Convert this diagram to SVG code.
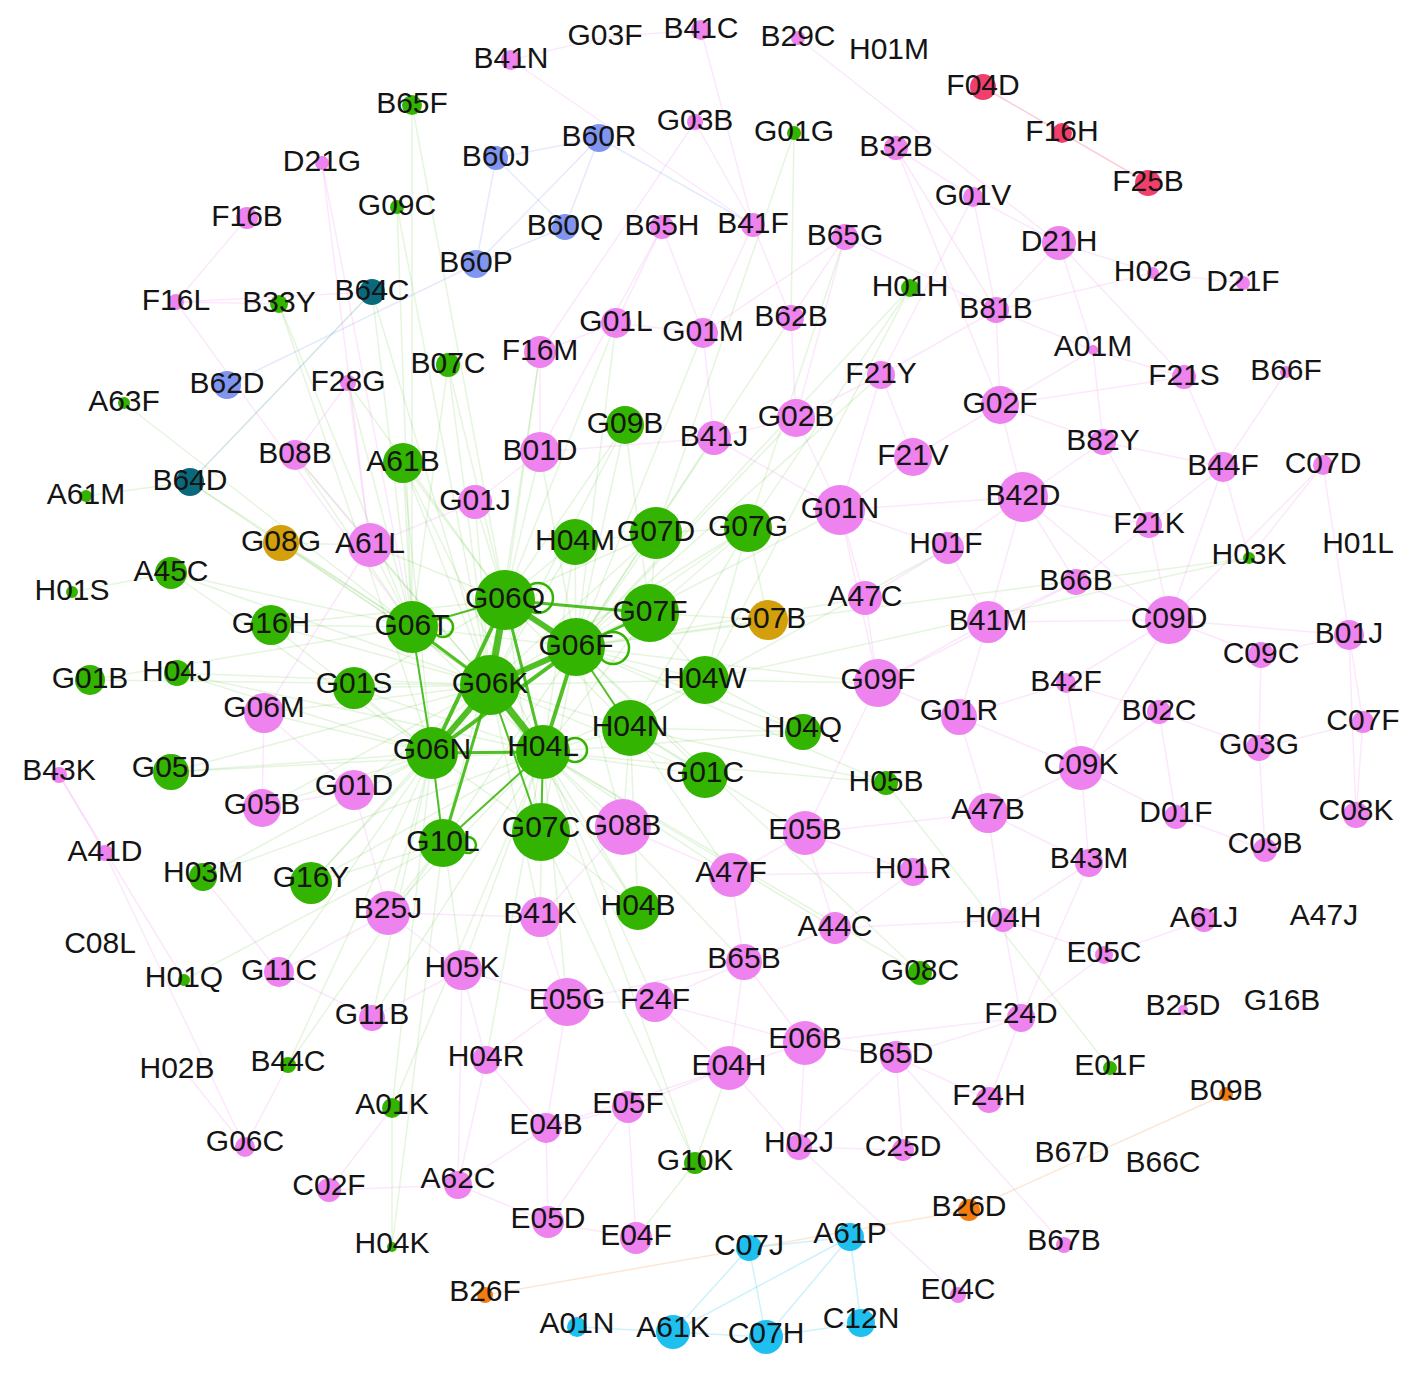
<svg xmlns="http://www.w3.org/2000/svg" width="1419" height="1381" viewBox="0 0 1419 1381">
<style>
text{font-family:"Liberation Sans",Arial,sans-serif;font-size:30px;fill:#141414;text-anchor:middle}
.g{fill:#33b400}.p{fill:#ee82ee}.b{fill:#7f95ef}.t{fill:#0a6a7c}.o{fill:#d39f0a}.r{fill:#ef3f6a}.c{fill:#1ec0f0}.a{fill:#f27c10}
.eg line{stroke:#33b400;stroke-opacity:.13;stroke-width:1.5}
.ep line{stroke:#ee82ee;stroke-opacity:.18;stroke-width:1.5}
.eb line{stroke:#7f95ef;stroke-opacity:.2;stroke-width:1.5}
.ec line{stroke:#1ec0f0;stroke-opacity:.22;stroke-width:1.5}
.ea line{stroke:#f27c10;stroke-opacity:.18;stroke-width:1.5}
.er line{stroke:#ef3f6a;stroke-opacity:.25;stroke-width:1.5}
.et line{stroke:#0a6a7c;stroke-opacity:.18;stroke-width:1.5}
.ek line{stroke:#33b400;stroke-opacity:.85}
.loop{fill:none;stroke:#33b400;stroke-width:2.5}
</style>
<rect width="1419" height="1381" fill="#fff"/>
<g id="connectors">
<g class="eg">
<line x1="412" y1="105" x2="412" y2="627"/><line x1="412" y1="105" x2="505" y2="600"/>
<line x1="397" y1="207" x2="412" y2="627"/><line x1="397" y1="207" x2="490" y2="685"/>
<line x1="279" y1="304" x2="412" y2="627"/><line x1="279" y1="304" x2="432" y2="753"/>
<line x1="372" y1="292" x2="412" y2="627"/><line x1="372" y1="292" x2="490" y2="685"/>
<line x1="448" y1="365" x2="505" y2="600"/><line x1="448" y1="365" x2="412" y2="627"/><line x1="448" y1="365" x2="490" y2="685"/>
<line x1="124" y1="403" x2="412" y2="627"/><line x1="86" y1="496" x2="190" y2="482"/>
<line x1="190" y1="482" x2="490" y2="685"/><line x1="190" y1="482" x2="412" y2="627"/>
<line x1="403" y1="463" x2="505" y2="600"/><line x1="403" y1="463" x2="490" y2="685"/><line x1="403" y1="463" x2="412" y2="627"/><line x1="403" y1="463" x2="432" y2="753"/><line x1="403" y1="463" x2="543" y2="752"/>
<line x1="625" y1="425" x2="505" y2="600"/><line x1="625" y1="425" x2="576" y2="647"/><line x1="625" y1="425" x2="490" y2="685"/><line x1="625" y1="425" x2="650" y2="613"/>
<line x1="171" y1="573" x2="412" y2="627"/><line x1="171" y1="573" x2="490" y2="685"/><line x1="171" y1="573" x2="432" y2="753"/><line x1="171" y1="573" x2="72" y2="592"/>
<line x1="271" y1="625" x2="412" y2="627"/><line x1="271" y1="625" x2="490" y2="685"/><line x1="271" y1="625" x2="432" y2="753"/><line x1="271" y1="625" x2="505" y2="600"/>
<line x1="90" y1="680" x2="412" y2="627"/><line x1="90" y1="680" x2="490" y2="685"/>
<line x1="177" y1="673" x2="490" y2="685"/><line x1="177" y1="673" x2="543" y2="752"/><line x1="177" y1="673" x2="432" y2="753"/>
<line x1="354" y1="688" x2="490" y2="685"/><line x1="354" y1="688" x2="432" y2="753"/><line x1="354" y1="688" x2="505" y2="600"/><line x1="354" y1="688" x2="543" y2="752"/>
<line x1="171" y1="772" x2="432" y2="753"/><line x1="171" y1="772" x2="490" y2="685"/><line x1="171" y1="772" x2="543" y2="752"/>
<line x1="203" y1="877" x2="432" y2="753"/><line x1="203" y1="877" x2="543" y2="752"/>
<line x1="311" y1="883" x2="432" y2="753"/><line x1="311" y1="883" x2="490" y2="685"/><line x1="311" y1="883" x2="543" y2="752"/><line x1="311" y1="883" x2="443" y2="843"/>
<line x1="184" y1="980" x2="443" y2="843"/><line x1="288" y1="1065" x2="432" y2="753"/>
<line x1="392" y1="1108" x2="432" y2="753"/><line x1="392" y1="1108" x2="543" y2="752"/><line x1="392" y1="1247" x2="392" y2="1108"/><line x1="392" y1="1247" x2="443" y2="843"/>
<line x1="695" y1="1163" x2="543" y2="752"/><line x1="695" y1="1163" x2="541" y2="832"/><line x1="695" y1="1163" x2="729" y2="1068"/><line x1="695" y1="1163" x2="636" y2="1238"/>
<line x1="638" y1="908" x2="543" y2="752"/><line x1="638" y1="908" x2="490" y2="685"/><line x1="638" y1="908" x2="630" y2="728"/><line x1="638" y1="908" x2="541" y2="832"/>
<line x1="920" y1="973" x2="543" y2="752"/><line x1="920" y1="973" x2="576" y2="647"/>
<line x1="1110" y1="1068" x2="886" y2="783"/>
<line x1="886" y1="783" x2="630" y2="728"/><line x1="886" y1="783" x2="576" y2="647"/><line x1="886" y1="783" x2="543" y2="752"/>
<line x1="803" y1="732" x2="630" y2="728"/><line x1="803" y1="732" x2="576" y2="647"/><line x1="803" y1="732" x2="543" y2="752"/><line x1="803" y1="732" x2="705" y2="680"/>
<line x1="705" y1="775" x2="543" y2="752"/><line x1="705" y1="775" x2="490" y2="685"/><line x1="705" y1="775" x2="630" y2="728"/><line x1="705" y1="775" x2="576" y2="647"/>
<line x1="1249" y1="558" x2="576" y2="647"/><line x1="1249" y1="558" x2="705" y2="680"/>
<line x1="910" y1="288" x2="576" y2="647"/><line x1="910" y1="288" x2="748" y2="528"/><line x1="910" y1="288" x2="705" y2="680"/>
<line x1="794" y1="133" x2="791" y2="318"/><line x1="794" y1="133" x2="656" y2="533"/>
<line x1="705" y1="680" x2="576" y2="647"/><line x1="705" y1="680" x2="490" y2="685"/><line x1="705" y1="680" x2="543" y2="752"/><line x1="705" y1="680" x2="650" y2="613"/><line x1="705" y1="680" x2="630" y2="728"/><line x1="705" y1="680" x2="748" y2="528"/>
<line x1="630" y1="728" x2="490" y2="685"/><line x1="630" y1="728" x2="543" y2="752"/><line x1="630" y1="728" x2="505" y2="600"/>
<line x1="575" y1="542" x2="505" y2="600"/><line x1="575" y1="542" x2="576" y2="647"/><line x1="575" y1="542" x2="490" y2="685"/><line x1="575" y1="542" x2="543" y2="752"/><line x1="575" y1="542" x2="656" y2="533"/>
<line x1="656" y1="533" x2="505" y2="600"/><line x1="656" y1="533" x2="576" y2="647"/><line x1="656" y1="533" x2="490" y2="685"/><line x1="656" y1="533" x2="748" y2="528"/><line x1="656" y1="533" x2="650" y2="613"/>
<line x1="748" y1="528" x2="576" y2="647"/><line x1="748" y1="528" x2="650" y2="613"/><line x1="748" y1="528" x2="490" y2="685"/><line x1="748" y1="528" x2="630" y2="728"/>
<line x1="650" y1="613" x2="490" y2="685"/><line x1="650" y1="613" x2="543" y2="752"/><line x1="650" y1="613" x2="768" y2="620"/>
<line x1="768" y1="620" x2="576" y2="647"/><line x1="768" y1="620" x2="748" y2="528"/>
<line x1="281" y1="543" x2="412" y2="627"/><line x1="281" y1="543" x2="490" y2="685"/><line x1="281" y1="543" x2="370" y2="545"/>
<line x1="541" y1="832" x2="576" y2="647"/><line x1="541" y1="832" x2="505" y2="600"/><line x1="541" y1="832" x2="432" y2="753"/>
<line x1="443" y1="843" x2="505" y2="600"/><line x1="443" y1="843" x2="576" y2="647"/>
<line x1="412" y1="627" x2="543" y2="752"/><line x1="412" y1="627" x2="576" y2="647"/>
<line x1="264" y1="713" x2="490" y2="685"/><line x1="264" y1="713" x2="432" y2="753"/>
<line x1="354" y1="790" x2="432" y2="753"/><line x1="354" y1="790" x2="490" y2="685"/>
<line x1="262" y1="808" x2="432" y2="753"/><line x1="262" y1="808" x2="490" y2="685"/>
<line x1="388" y1="913" x2="432" y2="753"/><line x1="388" y1="913" x2="543" y2="752"/><line x1="388" y1="913" x2="443" y2="843"/>
<line x1="475" y1="502" x2="505" y2="600"/><line x1="475" y1="502" x2="490" y2="685"/>
<line x1="370" y1="545" x2="505" y2="600"/><line x1="370" y1="545" x2="490" y2="685"/><line x1="370" y1="545" x2="412" y2="627"/>
<line x1="295" y1="455" x2="412" y2="627"/><line x1="295" y1="455" x2="490" y2="685"/>
<line x1="348" y1="383" x2="412" y2="627"/><line x1="348" y1="383" x2="505" y2="600"/>
<line x1="540" y1="452" x2="505" y2="600"/><line x1="540" y1="452" x2="576" y2="647"/>
<line x1="540" y1="352" x2="505" y2="600"/><line x1="540" y1="352" x2="490" y2="685"/>
<line x1="616" y1="323" x2="576" y2="647"/><line x1="616" y1="323" x2="505" y2="600"/><line x1="703" y1="333" x2="576" y2="647"/>
<line x1="540" y1="917" x2="543" y2="752"/><line x1="540" y1="917" x2="490" y2="685"/>
<line x1="462" y1="970" x2="543" y2="752"/><line x1="462" y1="970" x2="432" y2="753"/>
<line x1="623" y1="827" x2="543" y2="752"/><line x1="623" y1="827" x2="576" y2="647"/><line x1="623" y1="827" x2="630" y2="728"/>
<line x1="279" y1="972" x2="432" y2="753"/><line x1="372" y1="1018" x2="432" y2="753"/><line x1="372" y1="1018" x2="543" y2="752"/>
<line x1="486" y1="1060" x2="543" y2="752"/><line x1="567" y1="1002" x2="543" y2="752"/><line x1="655" y1="1002" x2="543" y2="752"/>
<line x1="731" y1="875" x2="630" y2="728"/><line x1="731" y1="875" x2="543" y2="752"/><line x1="805" y1="833" x2="630" y2="728"/><line x1="744" y1="962" x2="543" y2="752"/>
<line x1="714" y1="438" x2="576" y2="647"/><line x1="796" y1="418" x2="576" y2="647"/><line x1="840" y1="510" x2="576" y2="647"/><line x1="865" y1="598" x2="576" y2="647"/>
<line x1="878" y1="683" x2="576" y2="647"/><line x1="878" y1="683" x2="705" y2="680"/><line x1="881" y1="375" x2="576" y2="647"/><line x1="791" y1="318" x2="576" y2="647"/>
<line x1="845" y1="237" x2="748" y2="528"/><line x1="948" y1="548" x2="705" y2="680"/><line x1="835" y1="928" x2="543" y2="752"/>
<line x1="288" y1="1065" x2="443" y2="843"/>
</g>
<g class="ep">
<line x1="176" y1="302" x2="247" y2="218"/><line x1="176" y1="302" x2="279" y2="304"/><line x1="176" y1="302" x2="372" y2="292"/><line x1="176" y1="302" x2="412" y2="627"/>
<line x1="322" y1="163" x2="412" y2="627"/><line x1="322" y1="163" x2="370" y2="545"/>
<line x1="605" y1="37" x2="511" y2="60"/><line x1="605" y1="37" x2="701" y2="30"/><line x1="511" y1="60" x2="753" y2="225"/><line x1="701" y1="30" x2="753" y2="225"/>
<line x1="798" y1="38" x2="1059" y2="243"/><line x1="695" y1="122" x2="540" y2="352"/><line x1="695" y1="122" x2="753" y2="225"/>
<line x1="662" y1="227" x2="540" y2="452"/><line x1="662" y1="227" x2="703" y2="333"/><line x1="662" y1="227" x2="616" y2="323"/>
<line x1="753" y1="225" x2="791" y2="318"/><line x1="753" y1="225" x2="703" y2="333"/>
<line x1="845" y1="237" x2="791" y2="318"/><line x1="845" y1="237" x2="703" y2="333"/><line x1="845" y1="237" x2="796" y2="418"/><line x1="845" y1="237" x2="996" y2="310"/>
<line x1="896" y1="148" x2="973" y2="197"/><line x1="896" y1="148" x2="996" y2="310"/><line x1="896" y1="148" x2="1000" y2="405"/>
<line x1="973" y1="197" x2="1059" y2="243"/><line x1="973" y1="197" x2="996" y2="310"/><line x1="973" y1="197" x2="881" y2="375"/>
<line x1="1059" y1="243" x2="1153" y2="273"/><line x1="1059" y1="243" x2="996" y2="310"/><line x1="1059" y1="243" x2="1093" y2="350"/><line x1="1059" y1="243" x2="1184" y2="377"/>
<line x1="1153" y1="273" x2="1243" y2="283"/><line x1="1153" y1="273" x2="996" y2="310"/>
<line x1="996" y1="310" x2="881" y2="375"/><line x1="996" y1="310" x2="1093" y2="350"/><line x1="996" y1="310" x2="1000" y2="405"/>
<line x1="1093" y1="350" x2="1000" y2="405"/><line x1="1093" y1="350" x2="1184" y2="377"/><line x1="1093" y1="350" x2="1103" y2="442"/>
<line x1="1184" y1="377" x2="1223" y2="467"/><line x1="1184" y1="377" x2="1000" y2="405"/><line x1="1286" y1="372" x2="1223" y2="467"/>
<line x1="881" y1="375" x2="796" y2="418"/><line x1="881" y1="375" x2="913" y2="457"/><line x1="881" y1="375" x2="840" y2="510"/>
<line x1="1000" y1="405" x2="1023" y2="497"/><line x1="1000" y1="405" x2="913" y2="457"/><line x1="1000" y1="405" x2="1103" y2="442"/>
<line x1="1103" y1="442" x2="1023" y2="497"/><line x1="1103" y1="442" x2="1149" y2="525"/><line x1="1103" y1="442" x2="1223" y2="467"/>
<line x1="1223" y1="467" x2="1149" y2="525"/><line x1="1223" y1="467" x2="1169" y2="620"/><line x1="1223" y1="467" x2="1249" y2="558"/>
<line x1="1323" y1="465" x2="1349" y2="635"/><line x1="1323" y1="465" x2="1249" y2="558"/><line x1="1323" y1="465" x2="1169" y2="620"/>
<line x1="1023" y1="497" x2="840" y2="510"/><line x1="1023" y1="497" x2="988" y2="622"/><line x1="1023" y1="497" x2="1169" y2="620"/><line x1="1023" y1="497" x2="1076" y2="582"/><line x1="1023" y1="497" x2="948" y2="548"/><line x1="1023" y1="497" x2="1149" y2="525"/>
<line x1="1149" y1="525" x2="1169" y2="620"/><line x1="1149" y1="525" x2="1076" y2="582"/>
<line x1="948" y1="548" x2="988" y2="622"/><line x1="948" y1="548" x2="840" y2="510"/><line x1="948" y1="548" x2="865" y2="598"/>
<line x1="1076" y1="582" x2="988" y2="622"/><line x1="1076" y1="582" x2="1169" y2="620"/><line x1="1076" y1="582" x2="878" y2="683"/>
<line x1="988" y1="622" x2="878" y2="683"/><line x1="988" y1="622" x2="1169" y2="620"/><line x1="988" y1="622" x2="959" y2="717"/>
<line x1="1169" y1="620" x2="1261" y2="655"/><line x1="1169" y1="620" x2="1349" y2="635"/><line x1="1169" y1="620" x2="1066" y2="683"/><line x1="1169" y1="620" x2="1081" y2="768"/>
<line x1="1261" y1="655" x2="1349" y2="635"/><line x1="1261" y1="655" x2="1259" y2="748"/><line x1="1349" y1="635" x2="1363" y2="722"/><line x1="1349" y1="635" x2="1356" y2="815"/>
<line x1="1066" y1="683" x2="1159" y2="712"/><line x1="1066" y1="683" x2="1081" y2="768"/><line x1="1066" y1="683" x2="959" y2="717"/>
<line x1="1159" y1="712" x2="1259" y2="748"/><line x1="1159" y1="712" x2="1081" y2="768"/><line x1="1159" y1="712" x2="1176" y2="817"/>
<line x1="1259" y1="748" x2="1363" y2="722"/><line x1="1259" y1="748" x2="1265" y2="850"/><line x1="1363" y1="722" x2="1356" y2="815"/>
<line x1="1081" y1="768" x2="988" y2="813"/><line x1="1081" y1="768" x2="1176" y2="817"/><line x1="1081" y1="768" x2="1089" y2="863"/><line x1="1081" y1="768" x2="959" y2="717"/>
<line x1="1176" y1="817" x2="1265" y2="850"/>
<line x1="988" y1="813" x2="1089" y2="863"/><line x1="988" y1="813" x2="959" y2="717"/><line x1="988" y1="813" x2="805" y2="833"/><line x1="988" y1="813" x2="1003" y2="920"/>
<line x1="959" y1="717" x2="878" y2="683"/><line x1="878" y1="683" x2="865" y2="598"/><line x1="878" y1="683" x2="840" y2="510"/><line x1="878" y1="683" x2="805" y2="833"/>
<line x1="865" y1="598" x2="840" y2="510"/><line x1="840" y1="510" x2="913" y2="457"/><line x1="840" y1="510" x2="796" y2="418"/><line x1="840" y1="510" x2="714" y2="438"/>
<line x1="796" y1="418" x2="714" y2="438"/><line x1="796" y1="418" x2="791" y2="318"/><line x1="714" y1="438" x2="703" y2="333"/><line x1="714" y1="438" x2="540" y2="452"/>
<line x1="1089" y1="863" x2="1003" y2="920"/><line x1="1089" y1="863" x2="1021" y2="1018"/>
<line x1="913" y1="872" x2="731" y2="875"/><line x1="913" y1="872" x2="805" y2="833"/><line x1="913" y1="872" x2="835" y2="928"/>
<line x1="1003" y1="920" x2="1021" y2="1018"/><line x1="1003" y1="920" x2="1104" y2="955"/><line x1="1003" y1="920" x2="835" y2="928"/>
<line x1="1204" y1="920" x2="1104" y2="955"/><line x1="1104" y1="955" x2="1021" y2="1018"/>
<line x1="1021" y1="1018" x2="989" y2="1100"/><line x1="1021" y1="1018" x2="896" y2="1057"/><line x1="1021" y1="1018" x2="805" y2="1043"/>
<line x1="835" y1="928" x2="744" y2="962"/><line x1="835" y1="928" x2="805" y2="833"/>
<line x1="744" y1="962" x2="567" y2="1002"/><line x1="744" y1="962" x2="655" y2="1002"/><line x1="744" y1="962" x2="805" y2="1043"/><line x1="744" y1="962" x2="729" y2="1068"/>
<line x1="567" y1="1002" x2="655" y2="1002"/><line x1="567" y1="1002" x2="462" y2="970"/><line x1="567" y1="1002" x2="540" y2="917"/><line x1="567" y1="1002" x2="546" y2="1128"/>
<line x1="655" y1="1002" x2="729" y2="1068"/><line x1="655" y1="1002" x2="805" y2="1043"/>
<line x1="805" y1="1043" x2="729" y2="1068"/><line x1="805" y1="1043" x2="896" y2="1057"/><line x1="805" y1="1043" x2="799" y2="1147"/>
<line x1="896" y1="1057" x2="989" y2="1100"/><line x1="896" y1="1057" x2="903" y2="1150"/><line x1="896" y1="1057" x2="799" y2="1147"/><line x1="896" y1="1057" x2="1064" y2="1245"/>
<line x1="729" y1="1068" x2="799" y2="1147"/><line x1="729" y1="1068" x2="628" y2="1107"/><line x1="729" y1="1068" x2="546" y2="1128"/>
<line x1="628" y1="1107" x2="546" y2="1128"/><line x1="628" y1="1107" x2="636" y2="1238"/><line x1="628" y1="1107" x2="548" y2="1222"/>
<line x1="546" y1="1128" x2="548" y2="1222"/><line x1="546" y1="1128" x2="486" y2="1060"/><line x1="546" y1="1128" x2="458" y2="1185"/>
<line x1="548" y1="1222" x2="636" y2="1238"/><line x1="548" y1="1222" x2="458" y2="1185"/>
<line x1="486" y1="1060" x2="462" y2="970"/><line x1="486" y1="1060" x2="458" y2="1185"/><line x1="486" y1="1060" x2="567" y2="1002"/>
<line x1="458" y1="1185" x2="329" y2="1190"/><line x1="458" y1="1185" x2="462" y2="970"/><line x1="329" y1="1190" x2="392" y2="1108"/>
<line x1="799" y1="1147" x2="958" y2="1295"/><line x1="903" y1="1150" x2="799" y2="1147"/>
<line x1="59" y1="775" x2="105" y2="853"/><line x1="59" y1="775" x2="184" y2="980"/><line x1="105" y1="853" x2="245" y2="1147"/><line x1="190" y1="1078" x2="245" y2="1147"/><line x1="245" y1="1147" x2="288" y2="1065"/>
<line x1="203" y1="877" x2="279" y2="972"/><line x1="279" y1="972" x2="372" y2="1018"/><line x1="279" y1="972" x2="388" y2="913"/><line x1="372" y1="1018" x2="462" y2="970"/>
<line x1="264" y1="713" x2="262" y2="808"/><line x1="264" y1="713" x2="354" y2="790"/><line x1="264" y1="713" x2="370" y2="545"/>
<line x1="370" y1="545" x2="295" y2="455"/><line x1="370" y1="545" x2="348" y2="383"/><line x1="370" y1="545" x2="475" y2="502"/><line x1="348" y1="383" x2="295" y2="455"/>
<line x1="388" y1="913" x2="462" y2="970"/><line x1="388" y1="913" x2="540" y2="917"/><line x1="354" y1="790" x2="262" y2="808"/><line x1="354" y1="790" x2="388" y2="913"/>
<line x1="623" y1="827" x2="731" y2="875"/><line x1="623" y1="827" x2="540" y2="917"/><line x1="731" y1="875" x2="805" y2="833"/><line x1="731" y1="875" x2="744" y2="962"/>
<line x1="540" y1="452" x2="475" y2="502"/><line x1="540" y1="352" x2="616" y2="323"/><line x1="540" y1="352" x2="540" y2="452"/><line x1="616" y1="323" x2="703" y2="333"/>
</g>
<g class="eb">
<line x1="599" y1="138" x2="496" y2="158"/><line x1="599" y1="138" x2="565" y2="227"/><line x1="599" y1="138" x2="476" y2="264"/>
<line x1="496" y1="158" x2="565" y2="227"/><line x1="496" y1="158" x2="476" y2="264"/><line x1="565" y1="227" x2="476" y2="264"/>
<line x1="599" y1="138" x2="753" y2="225"/><line x1="227" y1="385" x2="476" y2="264"/>
</g>
<g class="et"><line x1="190" y1="482" x2="372" y2="292"/></g>
<g class="ec">
<line x1="577" y1="1327" x2="673" y2="1332"/><line x1="673" y1="1332" x2="766" y2="1337"/><line x1="766" y1="1337" x2="861" y2="1323"/>
<line x1="673" y1="1332" x2="749" y2="1248"/><line x1="673" y1="1332" x2="850" y2="1237"/><line x1="749" y1="1248" x2="766" y2="1337"/>
<line x1="749" y1="1248" x2="850" y2="1237"/><line x1="850" y1="1237" x2="861" y2="1323"/><line x1="850" y1="1237" x2="766" y2="1337"/>
</g>
<g class="ea"><line x1="485" y1="1295" x2="969" y2="1210"/><line x1="969" y1="1210" x2="1226" y2="1094"/></g>
<g class="er"><line x1="983" y1="87" x2="1062" y2="133"/><line x1="1062" y1="133" x2="1148" y2="183"/></g>
<g class="ek">
<line x1="505" y1="600" x2="490" y2="685" stroke-width="7"/>
<line x1="505" y1="600" x2="576" y2="647" stroke-width="6"/>
<line x1="576" y1="647" x2="490" y2="685" stroke-width="6"/>
<line x1="490" y1="685" x2="543" y2="752" stroke-width="7"/>
<line x1="490" y1="685" x2="432" y2="753" stroke-width="6"/>
<line x1="505" y1="600" x2="432" y2="753" stroke-width="4"/>
<line x1="576" y1="647" x2="543" y2="752" stroke-width="4"/>
<line x1="505" y1="600" x2="543" y2="752" stroke-width="3"/>
<line x1="576" y1="647" x2="432" y2="753" stroke-width="4"/>
<line x1="432" y1="753" x2="543" y2="752" stroke-width="3"/>
<line x1="412" y1="627" x2="490" y2="685" stroke-width="3"/>
<line x1="412" y1="627" x2="505" y2="600" stroke-width="2"/>
<line x1="505" y1="600" x2="650" y2="613" stroke-width="3"/>
<line x1="576" y1="647" x2="650" y2="613" stroke-width="3"/>
<line x1="490" y1="685" x2="443" y2="843" stroke-width="3"/>
<line x1="432" y1="753" x2="443" y2="843" stroke-width="2"/>
<line x1="543" y1="752" x2="443" y2="843" stroke-width="2"/>
<line x1="490" y1="685" x2="541" y2="832" stroke-width="2"/>
<line x1="543" y1="752" x2="541" y2="832" stroke-width="2"/>
<line x1="576" y1="647" x2="630" y2="728" stroke-width="2"/>
<line x1="412" y1="627" x2="432" y2="753" stroke-width="2"/>
</g>
<circle class="loop" cx="538" cy="598" r="15"/>
<circle class="loop" cx="613" cy="648" r="16"/>
<circle class="loop" cx="575" cy="750" r="12"/>
<circle class="loop" cx="443" cy="627" r="10"/>
<circle class="loop" cx="468" cy="845" r="8" stroke-width="1.5"/>
</g>
<g id="nodes">
<g id="n-B41N"><circle class="p" cx="511" cy="60" r="10"/><text x="511" y="68">B41N</text></g>
<g id="n-G03F"><text x="605" y="45">G03F</text></g>
<g id="n-B41C"><circle class="p" cx="701" cy="30" r="10"/><text x="701" y="38">B41C</text></g>
<g id="n-B29C"><circle class="p" cx="798" cy="38" r="7"/><text x="798" y="46">B29C</text></g>
<g id="n-H01M"><text x="889" y="59">H01M</text></g>
<g id="n-F04D"><circle class="r" cx="983" cy="87" r="13"/><text x="983" y="95">F04D</text></g>
<g id="n-B65F"><circle class="g" cx="412" cy="105" r="10"/><text x="412" y="113">B65F</text></g>
<g id="n-B60R"><circle class="b" cx="599" cy="138" r="14"/><text x="599" y="146">B60R</text></g>
<g id="n-G03B"><circle class="p" cx="695" cy="122" r="8"/><text x="695" y="130">G03B</text></g>
<g id="n-G01G"><circle class="g" cx="794" cy="133" r="7"/><text x="794" y="141">G01G</text></g>
<g id="n-B32B"><circle class="p" cx="896" cy="148" r="12"/><text x="896" y="156">B32B</text></g>
<g id="n-F16H"><circle class="r" cx="1062" cy="133" r="10"/><text x="1062" y="141">F16H</text></g>
<g id="n-D21G"><circle class="p" cx="322" cy="163" r="7"/><text x="322" y="171">D21G</text></g>
<g id="n-B60J"><circle class="b" cx="496" cy="158" r="12"/><text x="496" y="166">B60J</text></g>
<g id="n-F25B"><circle class="r" cx="1148" cy="183" r="13"/><text x="1148" y="191">F25B</text></g>
<g id="n-G09C"><circle class="g" cx="397" cy="207" r="7"/><text x="397" y="215">G09C</text></g>
<g id="n-F16B"><circle class="p" cx="247" cy="218" r="11"/><text x="247" y="226">F16B</text></g>
<g id="n-B60Q"><circle class="b" cx="565" cy="227" r="13"/><text x="565" y="235">B60Q</text></g>
<g id="n-B65H"><circle class="p" cx="662" cy="227" r="12"/><text x="662" y="235">B65H</text></g>
<g id="n-B41F"><circle class="p" cx="753" cy="225" r="12"/><text x="753" y="233">B41F</text></g>
<g id="n-B65G"><circle class="p" cx="845" cy="237" r="13"/><text x="845" y="245">B65G</text></g>
<g id="n-G01V"><circle class="p" cx="973" cy="197" r="10"/><text x="973" y="205">G01V</text></g>
<g id="n-D21H"><circle class="p" cx="1059" cy="243" r="17"/><text x="1059" y="251">D21H</text></g>
<g id="n-B60P"><circle class="b" cx="476" cy="264" r="14"/><text x="476" y="272">B60P</text></g>
<g id="n-H02G"><circle class="p" cx="1153" cy="273" r="6"/><text x="1153" y="281">H02G</text></g>
<g id="n-D21F"><circle class="p" cx="1243" cy="283" r="7"/><text x="1243" y="291">D21F</text></g>
<g id="n-F16L"><circle class="p" cx="176" cy="302" r="8"/><text x="176" y="310">F16L</text></g>
<g id="n-B33Y"><circle class="g" cx="279" cy="304" r="9"/><text x="279" y="312">B33Y</text></g>
<g id="n-B64C"><circle class="t" cx="372" cy="292" r="13"/><text x="372" y="300">B64C</text></g>
<g id="n-H01H"><circle class="g" cx="910" cy="288" r="9"/><text x="910" y="296">H01H</text></g>
<g id="n-B81B"><circle class="p" cx="996" cy="310" r="13"/><text x="996" y="318">B81B</text></g>
<g id="n-G01L"><circle class="p" cx="616" cy="323" r="15"/><text x="616" y="331">G01L</text></g>
<g id="n-G01M"><circle class="p" cx="703" cy="333" r="15"/><text x="703" y="341">G01M</text></g>
<g id="n-B62B"><circle class="p" cx="791" cy="318" r="13"/><text x="791" y="326">B62B</text></g>
<g id="n-A01M"><circle class="p" cx="1093" cy="350" r="5"/><text x="1093" y="356">A01M</text></g>
<g id="n-F21S"><circle class="p" cx="1184" cy="377" r="12"/><text x="1184" y="385">F21S</text></g>
<g id="n-B66F"><circle class="p" cx="1286" cy="372" r="6"/><text x="1286" y="380">B66F</text></g>
<g id="n-B07C"><circle class="g" cx="448" cy="365" r="12"/><text x="448" y="373">B07C</text></g>
<g id="n-F16M"><circle class="p" cx="540" cy="352" r="16"/><text x="540" y="360">F16M</text></g>
<g id="n-B62D"><circle class="b" cx="227" cy="385" r="14"/><text x="227" y="393">B62D</text></g>
<g id="n-F28G"><circle class="p" cx="348" cy="383" r="8"/><text x="348" y="391">F28G</text></g>
<g id="n-F21Y"><circle class="p" cx="881" cy="375" r="14"/><text x="881" y="383">F21Y</text></g>
<g id="n-A63F"><circle class="g" cx="124" cy="403" r="6"/><text x="124" y="411">A63F</text></g>
<g id="n-G02F"><circle class="p" cx="1000" cy="405" r="19"/><text x="1000" y="413">G02F</text></g>
<g id="n-G09B"><circle class="g" cx="625" cy="425" r="19"/><text x="625" y="433">G09B</text></g>
<g id="n-B41J"><circle class="p" cx="714" cy="438" r="17"/><text x="714" y="446">B41J</text></g>
<g id="n-G02B"><circle class="p" cx="796" cy="418" r="19"/><text x="796" y="426">G02B</text></g>
<g id="n-B82Y"><circle class="p" cx="1103" cy="442" r="13"/><text x="1103" y="450">B82Y</text></g>
<g id="n-B08B"><circle class="p" cx="295" cy="455" r="15"/><text x="295" y="463">B08B</text></g>
<g id="n-A61B"><circle class="g" cx="403" cy="463" r="20"/><text x="403" y="471">A61B</text></g>
<g id="n-B01D"><circle class="p" cx="540" cy="452" r="20"/><text x="540" y="460">B01D</text></g>
<g id="n-F21V"><circle class="p" cx="913" cy="457" r="19"/><text x="913" y="465">F21V</text></g>
<g id="n-B44F"><circle class="p" cx="1223" cy="467" r="15"/><text x="1223" y="475">B44F</text></g>
<g id="n-C07D"><circle class="p" cx="1323" cy="465" r="10"/><text x="1323" y="473">C07D</text></g>
<g id="n-A61M"><circle class="g" cx="86" cy="496" r="6"/><text x="86" y="504">A61M</text></g>
<g id="n-B64D"><circle class="t" cx="190" cy="482" r="14"/><text x="190" y="490">B64D</text></g>
<g id="n-G01J"><circle class="p" cx="475" cy="502" r="17"/><text x="475" y="510">G01J</text></g>
<g id="n-B42D"><circle class="p" cx="1023" cy="497" r="25"/><text x="1023" y="505">B42D</text></g>
<g id="n-G01N"><circle class="p" cx="840" cy="510" r="25"/><text x="840" y="518">G01N</text></g>
<g id="n-F21K"><circle class="p" cx="1149" cy="525" r="13"/><text x="1149" y="533">F21K</text></g>
<g id="n-G08G"><circle class="o" cx="281" cy="543" r="18"/><text x="281" y="551">G08G</text></g>
<g id="n-A61L"><circle class="p" cx="370" cy="545" r="22"/><text x="370" y="553">A61L</text></g>
<g id="n-H04M"><circle class="g" cx="575" cy="542" r="23"/><text x="575" y="550">H04M</text></g>
<g id="n-G07D"><circle class="g" cx="656" cy="533" r="26"/><text x="656" y="541">G07D</text></g>
<g id="n-G07G"><circle class="g" cx="748" cy="528" r="24"/><text x="748" y="536">G07G</text></g>
<g id="n-H01F"><circle class="p" cx="948" cy="548" r="16"/><text x="946" y="553">H01F</text></g>
<g id="n-H03K"><circle class="g" cx="1249" cy="558" r="6"/><text x="1249" y="564">H03K</text></g>
<g id="n-H01L"><text x="1358" y="553">H01L</text></g>
<g id="n-A45C"><circle class="g" cx="171" cy="573" r="16"/><text x="171" y="581">A45C</text></g>
<g id="n-H01S"><circle class="g" cx="72" cy="592" r="6"/><text x="72" y="600">H01S</text></g>
<g id="n-G06Q"><circle class="g" cx="505" cy="600" r="30"/><text x="505" y="608">G06Q</text></g>
<g id="n-G07F"><circle class="g" cx="650" cy="613" r="29"/><text x="650" y="621">G07F</text></g>
<g id="n-A47C"><circle class="p" cx="865" cy="598" r="17"/><text x="865" y="606">A47C</text></g>
<g id="n-B66B"><circle class="p" cx="1076" cy="582" r="13"/><text x="1076" y="590">B66B</text></g>
<g id="n-G16H"><circle class="g" cx="271" cy="625" r="20"/><text x="271" y="633">G16H</text></g>
<g id="n-G06T"><circle class="g" cx="412" cy="627" r="26"/><text x="412" y="635">G06T</text></g>
<g id="n-G07B"><circle class="o" cx="768" cy="620" r="20"/><text x="768" y="628">G07B</text></g>
<g id="n-B41M"><circle class="p" cx="988" cy="622" r="21"/><text x="988" y="630">B41M</text></g>
<g id="n-C09D"><circle class="p" cx="1169" cy="620" r="24"/><text x="1169" y="628">C09D</text></g>
<g id="n-B01J"><circle class="p" cx="1349" cy="635" r="15"/><text x="1349" y="643">B01J</text></g>
<g id="n-G06F"><circle class="g" cx="576" cy="647" r="29"/><text x="576" y="655">G06F</text></g>
<g id="n-C09C"><circle class="p" cx="1261" cy="655" r="13"/><text x="1261" y="663">C09C</text></g>
<g id="n-G01B"><circle class="g" cx="90" cy="680" r="15"/><text x="90" y="688">G01B</text></g>
<g id="n-H04J"><circle class="g" cx="177" cy="673" r="13"/><text x="177" y="681">H04J</text></g>
<g id="n-G01S"><circle class="g" cx="354" cy="688" r="21"/><text x="354" y="693">G01S</text></g>
<g id="n-G06K"><circle class="g" cx="490" cy="685" r="30"/><text x="490" y="693">G06K</text></g>
<g id="n-H04W"><circle class="g" cx="705" cy="680" r="24"/><text x="705" y="688">H04W</text></g>
<g id="n-G09F"><circle class="p" cx="878" cy="683" r="24"/><text x="878" y="689">G09F</text></g>
<g id="n-B42F"><circle class="p" cx="1066" cy="683" r="10"/><text x="1066" y="691">B42F</text></g>
<g id="n-G06M"><circle class="p" cx="264" cy="713" r="20"/><text x="264" y="717">G06M</text></g>
<g id="n-G01R"><circle class="p" cx="959" cy="717" r="18"/><text x="959" y="720">G01R</text></g>
<g id="n-B02C"><circle class="p" cx="1159" cy="712" r="12"/><text x="1159" y="720">B02C</text></g>
<g id="n-C07F"><circle class="p" cx="1363" cy="722" r="11"/><text x="1363" y="730">C07F</text></g>
<g id="n-H04N"><circle class="g" cx="630" cy="728" r="28"/><text x="630" y="736">H04N</text></g>
<g id="n-H04Q"><circle class="g" cx="803" cy="732" r="18"/><text x="803" y="737">H04Q</text></g>
<g id="n-G03G"><circle class="p" cx="1259" cy="748" r="13"/><text x="1259" y="754">G03G</text></g>
<g id="n-B43K"><circle class="p" cx="59" cy="775" r="8"/><text x="59" y="780">B43K</text></g>
<g id="n-G05D"><circle class="g" cx="171" cy="772" r="18"/><text x="171" y="777">G05D</text></g>
<g id="n-G06N"><circle class="g" cx="432" cy="753" r="26"/><text x="432" y="759">G06N</text></g>
<g id="n-H04L"><circle class="g" cx="543" cy="752" r="27"/><text x="543" y="756">H04L</text></g>
<g id="n-C09K"><circle class="p" cx="1081" cy="768" r="22"/><text x="1081" y="774">C09K</text></g>
<g id="n-G01C"><circle class="g" cx="705" cy="775" r="23"/><text x="705" y="782">G01C</text></g>
<g id="n-H05B"><circle class="g" cx="886" cy="783" r="12"/><text x="886" y="791">H05B</text></g>
<g id="n-A47B"><circle class="p" cx="988" cy="813" r="20"/><text x="988" y="819">A47B</text></g>
<g id="n-D01F"><circle class="p" cx="1176" cy="817" r="12"/><text x="1176" y="822">D01F</text></g>
<g id="n-C08K"><circle class="p" cx="1356" cy="815" r="13"/><text x="1356" y="820">C08K</text></g>
<g id="n-G05B"><circle class="p" cx="262" cy="808" r="19"/><text x="262" y="814">G05B</text></g>
<g id="n-G01D"><circle class="p" cx="354" cy="790" r="20"/><text x="354" y="795">G01D</text></g>
<g id="n-G10L"><circle class="g" cx="443" cy="843" r="24"/><text x="443" y="851">G10L</text></g>
<g id="n-G07C"><circle class="g" cx="541" cy="832" r="29"/><text x="541" y="837">G07C</text></g>
<g id="n-G08B"><circle class="p" cx="623" cy="827" r="28"/><text x="623" y="835">G08B</text></g>
<g id="n-E05B"><circle class="p" cx="805" cy="833" r="22"/><text x="805" y="839">E05B</text></g>
<g id="n-C09B"><circle class="p" cx="1265" cy="850" r="12"/><text x="1265" y="853">C09B</text></g>
<g id="n-A41D"><circle class="p" cx="105" cy="853" r="8"/><text x="105" y="861">A41D</text></g>
<g id="n-B43M"><circle class="p" cx="1089" cy="863" r="14"/><text x="1089" y="868">B43M</text></g>
<g id="n-H03M"><circle class="g" cx="203" cy="877" r="14"/><text x="203" y="882">H03M</text></g>
<g id="n-G16Y"><circle class="g" cx="311" cy="883" r="21"/><text x="311" y="887">G16Y</text></g>
<g id="n-A47F"><circle class="p" cx="731" cy="875" r="22"/><text x="731" y="882">A47F</text></g>
<g id="n-H01R"><circle class="p" cx="913" cy="872" r="14"/><text x="913" y="878">H01R</text></g>
<g id="n-B25J"><circle class="p" cx="388" cy="913" r="22"/><text x="388" y="918">B25J</text></g>
<g id="n-B41K"><circle class="p" cx="540" cy="917" r="20"/><text x="540" y="923">B41K</text></g>
<g id="n-H04B"><circle class="g" cx="638" cy="908" r="22"/><text x="638" y="915">H04B</text></g>
<g id="n-H04H"><circle class="p" cx="1003" cy="920" r="12"/><text x="1003" y="927">H04H</text></g>
<g id="n-A61J"><circle class="p" cx="1204" cy="920" r="12"/><text x="1204" y="927">A61J</text></g>
<g id="n-A47J"><text x="1324" y="925">A47J</text></g>
<g id="n-A44C"><circle class="p" cx="835" cy="928" r="16"/><text x="835" y="936">A44C</text></g>
<g id="n-C08L"><text x="100" y="953">C08L</text></g>
<g id="n-G11C"><circle class="p" cx="279" cy="972" r="15"/><text x="279" y="980">G11C</text></g>
<g id="n-H05K"><circle class="p" cx="462" cy="970" r="20"/><text x="462" y="977">H05K</text></g>
<g id="n-G08C"><circle class="g" cx="920" cy="973" r="12"/><text x="920" y="980">G08C</text></g>
<g id="n-E05C"><circle class="p" cx="1104" cy="955" r="9"/><text x="1104" y="962">E05C</text></g>
<g id="n-H01Q"><circle class="g" cx="184" cy="980" r="6"/><text x="184" y="987">H01Q</text></g>
<g id="n-B65B"><circle class="p" cx="744" cy="962" r="18"/><text x="744" y="968">B65B</text></g>
<g id="n-E05G"><circle class="p" cx="567" cy="1002" r="24"/><text x="567" y="1009">E05G</text></g>
<g id="n-F24F"><circle class="p" cx="655" cy="1002" r="20"/><text x="655" y="1009">F24F</text></g>
<g id="n-F24D"><circle class="p" cx="1021" cy="1018" r="14"/><text x="1021" y="1023">F24D</text></g>
<g id="n-B25D"><circle class="p" cx="1183" cy="1010" r="5"/><text x="1183" y="1015">B25D</text></g>
<g id="n-G16B"><text x="1282" y="1010">G16B</text></g>
<g id="n-G11B"><circle class="p" cx="372" cy="1018" r="13"/><text x="372" y="1024">G11B</text></g>
<g id="n-E06B"><circle class="p" cx="805" cy="1043" r="22"/><text x="805" y="1048">E06B</text></g>
<g id="n-B65D"><circle class="p" cx="896" cy="1057" r="16"/><text x="896" y="1063">B65D</text></g>
<g id="n-H02B"><text x="177" y="1078">H02B</text></g>
<g id="n-B44C"><circle class="g" cx="288" cy="1065" r="8"/><text x="288" y="1071">B44C</text></g>
<g id="n-H04R"><circle class="p" cx="486" cy="1060" r="14"/><text x="486" y="1066">H04R</text></g>
<g id="n-E04H"><circle class="p" cx="729" cy="1068" r="22"/><text x="729" y="1075">E04H</text></g>
<g id="n-E01F"><circle class="g" cx="1110" cy="1068" r="7"/><text x="1110" y="1075">E01F</text></g>
<g id="n-B09B"><circle class="a" cx="1226" cy="1094" r="7"/><text x="1226" y="1100">B09B</text></g>
<g id="n-A01K"><circle class="g" cx="392" cy="1108" r="10"/><text x="392" y="1114">A01K</text></g>
<g id="n-E05F"><circle class="p" cx="628" cy="1107" r="16"/><text x="628" y="1113">E05F</text></g>
<g id="n-F24H"><circle class="p" cx="989" cy="1100" r="13"/><text x="989" y="1105">F24H</text></g>
<g id="n-E04B"><circle class="p" cx="546" cy="1128" r="15"/><text x="546" y="1134">E04B</text></g>
<g id="n-H02J"><circle class="p" cx="799" cy="1147" r="13"/><text x="799" y="1152">H02J</text></g>
<g id="n-C25D"><circle class="p" cx="903" cy="1150" r="11"/><text x="903" y="1156">C25D</text></g>
<g id="n-G06C"><circle class="p" cx="245" cy="1147" r="10"/><text x="245" y="1151">G06C</text></g>
<g id="n-G10K"><circle class="g" cx="695" cy="1163" r="11"/><text x="695" y="1170">G10K</text></g>
<g id="n-B67D"><text x="1072" y="1162">B67D</text></g>
<g id="n-B66C"><text x="1163" y="1172">B66C</text></g>
<g id="n-C02F"><circle class="p" cx="329" cy="1190" r="12"/><text x="329" y="1195">C02F</text></g>
<g id="n-A62C"><circle class="p" cx="458" cy="1185" r="14"/><text x="458" y="1188">A62C</text></g>
<g id="n-B26D"><circle class="a" cx="969" cy="1210" r="11"/><text x="969" y="1216">B26D</text></g>
<g id="n-E05D"><circle class="p" cx="548" cy="1222" r="16"/><text x="548" y="1228">E05D</text></g>
<g id="n-E04F"><circle class="p" cx="636" cy="1238" r="16"/><text x="636" y="1245">E04F</text></g>
<g id="n-C07J"><circle class="c" cx="749" cy="1248" r="13"/><text x="749" y="1255">C07J</text></g>
<g id="n-A61P"><circle class="c" cx="850" cy="1237" r="14"/><text x="850" y="1243">A61P</text></g>
<g id="n-H04K"><circle class="g" cx="392" cy="1247" r="5"/><text x="392" y="1253">H04K</text></g>
<g id="n-B67B"><circle class="p" cx="1064" cy="1245" r="8"/><text x="1064" y="1250">B67B</text></g>
<g id="n-B26F"><circle class="a" cx="485" cy="1295" r="8"/><text x="485" y="1301">B26F</text></g>
<g id="n-E04C"><circle class="p" cx="958" cy="1295" r="8"/><text x="958" y="1299">E04C</text></g>
<g id="n-A01N"><circle class="c" cx="577" cy="1327" r="10"/><text x="577" y="1333">A01N</text></g>
<g id="n-A61K"><circle class="c" cx="673" cy="1332" r="17"/><text x="673" y="1337">A61K</text></g>
<g id="n-C07H"><circle class="c" cx="766" cy="1337" r="17"/><text x="766" y="1343">C07H</text></g>
<g id="n-C12N"><circle class="c" cx="861" cy="1323" r="14"/><text x="861" y="1328">C12N</text></g>
</g>
</svg>
